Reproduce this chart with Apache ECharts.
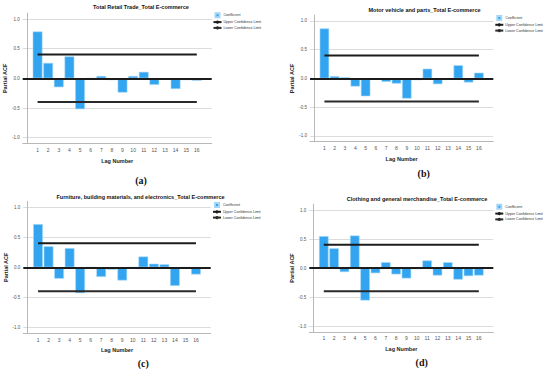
<!DOCTYPE html>
<html>
<head>
<meta charset="utf-8">
<script src="https://cdn.jsdelivr.net/npm/echarts@6/dist/echarts.min.js"></script>
<style>
html,body{margin:0;padding:0;background:#fff;}
#c{width:550px;height:379px;}
</style>
</head>
<body>
<div id="c"></div>
<script>
// ---- data ----
const lags = [1,2,3,4,5,6,7,8,9,10,11,12,13,14,15,16];
const panelTitles = [
  'Total Retail Trade_Total E-commerce',
  'Motor vehicle and parts_Total E-commerce',
  'Furniture, building materials, and electronics_Total E-commerce',
  'Clothing and general merchandise_Total E-commerce'
];
const captions = ['(a)','(b)','(c)','(d)'];
const pacfA = [0.79,0.26,-0.15,0.37,-0.52,0,0.04,-0.03,-0.24,0.04,0.11,-0.11,-0.01,-0.18,-0.03,-0.04];
const pacfB = [0.87,0.04,0.02,-0.14,-0.31,0,-0.06,-0.09,-0.35,-0.03,0.17,-0.10,-0.02,0.23,-0.07,0.10];
const pacfC = [0.72,0.35,-0.19,0.32,-0.43,0,-0.16,-0.04,-0.22,0,0.18,0.06,0.05,-0.31,0,-0.12];
const pacfD = [0.55,0.34,-0.07,0.56,-0.56,-0.09,0.10,-0.11,-0.18,-0.02,0.13,-0.13,0.10,-0.20,-0.14,-0.13];
const upperLimits = [0.40,0.40,0.40,0.40];
const lowerLimits = [-0.40,-0.40,-0.40,-0.40];
const yTicks = [-1,-0.5,0,0.5,1];
const legendNames = ['Coefficient','Upper Confidence Limit','Lower Confidence Limit'];

// ---- layout ----
const panels = [
  {vals: pacfA, grid:{left:22.7, top:13.1, width:189, height:130.5}, title:[141,6.7], cap:[141,180], leg:[212.5,12.3]},
  {vals: pacfB, grid:{left:310, top:15.2, width:183.3, height:126.5}, title:[424.5,10], cap:[423.7,173.5], leg:[494.3,15]},
  {vals: pacfC, grid:{left:23.3, top:201.3, width:187.4, height:132}, title:[140.5,196.7], cap:[143.3,363], leg:[212,202]},
  {vals: pacfD, grid:{left:309.3, top:204.2, width:184, height:127.6}, title:[417,199], cap:[421.7,362.7], leg:[494.3,203.8]}
];

const FONT = 'Liberation Sans, Arial, sans-serif';
const grids=[], xAxes=[], yAxes=[], series=[], legends=[], graphics=[];
panels.forEach((p,i)=>{
  grids.push(Object.assign({containLabel:false}, p.grid));
  xAxes.push({
    type:'value', gridIndex:i, min:-0.4, max:17.4,
    name:'Lag Number', nameLocation:'middle', nameGap:14,
    nameTextStyle:{fontSize:5.5, fontWeight:'bold', color:'#222', fontFamily:FONT},
    axisLine:{onZero:false, lineStyle:{color:'#b8b8b8', width:1}},
    axisTick:{show:false},
    splitLine:{show:false},
    axisLabel:{customValues:lags, fontSize:5, color:'#555', margin:4, fontFamily:FONT}
  });
  yAxes.push({
    type:'value', gridIndex:i, min:-1.1, max:1.1,
    name:'Partial ACF', nameLocation:'middle', nameRotate:90, nameGap:13,
    nameTextStyle:{fontSize:5.5, fontWeight:'bold', color:'#222', fontFamily:FONT},
    axisLine:{show:true, lineStyle:{color:'#b8b8b8', width:1}},
    axisTick:{show:false, customValues:yTicks},
    splitLine:{show:true, lineStyle:{color:'#dcdcdc', width:1}},
    axisLabel:{customValues:yTicks, fontSize:4.5, color:'#555', margin:3, fontFamily:FONT,
      formatter:v=>v.toFixed(1)}
  });
  series.push({
    name:'Coefficient', type:'bar', xAxisIndex:i, yAxisIndex:i,
    barWidth:'92%',
    data: lags.map((l,k)=>[l, p.vals[k]]),
    itemStyle:{color:'#33a4ef', borderColor:'#a6d6f7', borderWidth:0.6},
    markLine:{silent:true, symbol:'none', label:{show:false},
      lineStyle:{color:'#1c1c1c', width:2, type:'solid'},
      data:[{yAxis:0}], animation:false},
    animation:false, z:2
  });
  series.push({
    name:'Upper Confidence Limit', type:'line', xAxisIndex:i, yAxisIndex:i,
    symbol:'none', data: lags.map(l=>[l, upperLimits[i]]),
    lineStyle:{color:'#1c1c1c', width:2}, itemStyle:{color:'#1c1c1c'}, animation:false, z:3
  });
  series.push({
    name:'Lower Confidence Limit', type:'line', xAxisIndex:i, yAxisIndex:i,
    symbol:'none', data: lags.map(l=>[l, lowerLimits[i]]),
    lineStyle:{color:'#2a2a2a', width:2}, itemStyle:{color:'#2a2a2a'}, animation:false, z:3
  });
  legends.push({
    orient:'vertical', left:p.leg[0], top:p.leg[1],
    itemWidth:8, itemHeight:4, itemGap:1.8, padding:0,
    selectedMode:false,
    textStyle:{fontSize:3.6, color:'#333', padding:[0,0,0,-3], fontFamily:FONT},
    data:[
      {name:legendNames[0], icon:'path://M0,0H10V10H0Z'},
      {name:legendNames[1]},
      {name:legendNames[2]}
    ]
  });
  graphics.push({type:'text', x:p.title[0], y:p.title[1], silent:true,
    style:{text:panelTitles[i], fill:'#111', font:'bold 5.5px '+FONT, align:'center', verticalAlign:'middle'}});
  graphics.push({type:'text', x:p.cap[0], y:p.cap[1], silent:true,
    style:{text:captions[i], fill:'#111', font:'bold 10px "Liberation Serif", "Times New Roman", serif', align:'center', verticalAlign:'middle'}});
});

const chart = echarts.init(document.getElementById('c'), null, {renderer:'svg', width:550, height:379});
chart.setOption({
  backgroundColor:'#fff',
  animation:false,
  grid:grids, xAxis:xAxes, yAxis:yAxes, series:series, legend:legends,
  graphic:graphics
});
</script>
</body>
</html>
